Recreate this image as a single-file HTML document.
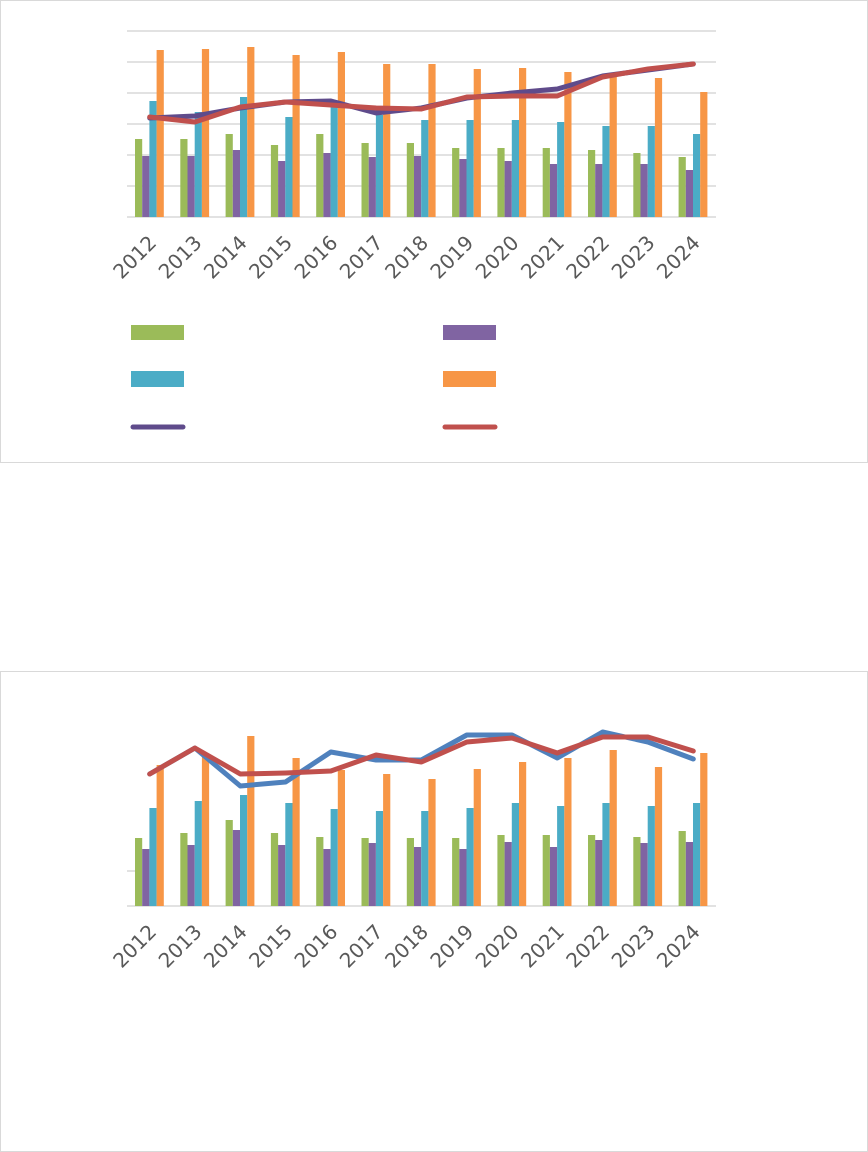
<!DOCTYPE html>
<html><head><meta charset="utf-8"><style>
html,body{margin:0;padding:0;background:#fff}
svg{display:block}
text{font-family:"DejaVu Sans","Liberation Sans",sans-serif;font-size:20px;fill:#595959}
</style></head><body>
<svg id="s" width="868" height="1152" xmlns="http://www.w3.org/2000/svg">
<rect x="0.5" y="0.5" width="867" height="462" fill="#fff" stroke="#d9d9d9"/>
<rect x="0.5" y="671.5" width="867" height="480" fill="#fff" stroke="#d9d9d9"/>
<g id="g"></g>
</svg>
<script>
var g=document.getElementById('g'),h='';
var yrs=[2012,2013,2014,2015,2016,2017,2018,2019,2020,2021,2022,2023,2024];
var C=['#9bbb59','#8064a2','#4bacc6','#f79646'];
function chart(base,grid,bars,l1,c1,l2,c2,ly){
 grid.forEach(function(y){h+='<line x1="127" x2="716" y1="'+y+'" y2="'+y+'" stroke="#d9d9d9" stroke-width="1.5"/>';});
 h+='<line x1="127" x2="716" y1="'+base+'" y2="'+base+'" stroke="#d9d9d9" stroke-width="1.5"/>';
 for(var i=0;i<13;i++){var x0=127+45.3*i+8;
  for(var k=0;k<4;k++){var t=bars[k][i];h+='<rect x="'+(x0+k*7.2).toFixed(1)+'" y="'+t+'" width="7.2" height="'+(base-t)+'" fill="'+C[k]+'"/>';}
  var cx=127+45.3*(i+0.5)+8;
  h+='<text transform="translate('+cx+','+ly+') rotate(-45)" text-anchor="end">'+yrs[i]+'</text>';
 }
 [[l1,c1],[l2,c2]].forEach(function(p){var pts=p[0].map(function(y,i){return (127+45.3*(i+0.5)).toFixed(1)+','+y}).join(' ');
  h+='<polyline points="'+pts+'" fill="none" stroke="'+p[1]+'" stroke-width="5" stroke-linejoin="round" stroke-linecap="round"/>';});
}
chart(217,[31,62,93,124,155,186],
 [[139,139,134,145,134,143,143,148,148,148,150,153,157],
  [156,156,150,161,153,157,156,159,161,164,164,164,170],
  [101,112,97,117,104,115,120,120,120,122,126,126,134],
  [50,49,47,55,52,64,64,69,68,72,74,78,92]],
 [118,116,108,102,101,113,108,98,93,89,76,70,64],'#5f4b8b',
 [117,122,107,102,105,108,109,97,96,96,77,69,64],'#c0504d',244);
chart(906,[],
 [[838,833,820,833,837,838,838,838,835,835,835,837,831],
  [849,845,830,845,849,843,847,849,842,847,840,843,842],
  [808,801,795,803,809,811,811,808,803,806,803,806,803],
  [765,757,736,758,770,774,779,769,762,758,750,767,753]],
 [774,748,786,782,752,760,760,735,735,758,732,742,759],'#4f81bd',
 [774,748,774,773,771,755,762,742,738,753,737,737,751],'#c0504d',933);
h+='<line x1="127" x2="135" y1="871" y2="871" stroke="#d9d9d9" stroke-width="1.5"/>';
h+='<rect x="131" y="325" width="53" height="15" fill="#9bbb59"/><rect x="443" y="325" width="53" height="15" fill="#8064a2"/>';
h+='<rect x="131" y="371" width="53" height="16" fill="#4bacc6"/><rect x="443" y="371" width="53" height="16" fill="#f79646"/>';
h+='<line x1="133" x2="183" y1="427" y2="427" stroke="#5f4b8b" stroke-width="5" stroke-linecap="round"/>';
h+='<line x1="445" x2="495" y1="427" y2="427" stroke="#c0504d" stroke-width="5" stroke-linecap="round"/>';
g.innerHTML=h;
</script>
</body></html>
